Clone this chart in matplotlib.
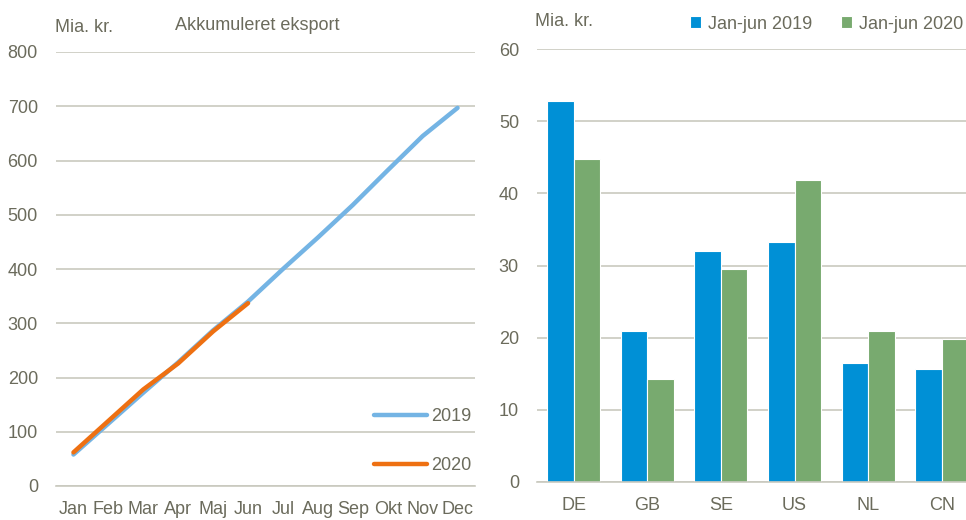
import matplotlib.pyplot as plt

# ---------------- Data ----------------
months = ["Jan", "Feb", "Mar", "Apr", "Maj", "Jun", "Jul", "Aug", "Sep", "Okt", "Nov", "Dec"]
export_2019 = [58, 115, 172, 228, 287, 340, 400, 458, 518, 582, 645, 697]
export_2020 = [62, 120, 178, 226, 285, 337]

countries = ["DE", "GB", "SE", "US", "NL", "CN"]
h1_2019 = [52.8, 20.9, 32.0, 33.3, 16.5, 15.7]
h1_2020 = [44.7, 14.3, 29.5, 41.8, 20.9, 19.8]

# ---------------- Style ----------------
TXT = "#6b6b5c"
GRID = "#c9c9bf"
BLUE_LINE = "#74b4e4"
ORANGE = "#ee7012"
BLUE_BAR = "#0090d6"
GREEN_BAR = "#78aa6f"
FS = 13

plt.rcParams["font.family"] = ["Liberation Sans", "DejaVu Sans"]

fig = plt.figure(figsize=(9.66, 5.2), dpi=100)

# ---------------- Left: accumulated export ----------------
ax1 = fig.add_axes([56 / 966, 1 - 486 / 520, 419 / 966, 434 / 520])
x = list(range(len(months)))
ax1.plot(x, export_2019, color=BLUE_LINE, lw=3.2, solid_capstyle="round", label="2019")
ax1.plot(x[:len(export_2020)], export_2020, color=ORANGE, lw=3.2,
         solid_capstyle="round", label="2020")
ax1.set_xlim(-0.5, len(months) - 0.5)
ax1.set_ylim(0, 800)
ax1.set_yticks(range(0, 801, 100))
ax1.set_xticks(x)
ax1.set_xticklabels(months)
ax1.grid(axis="y", color=GRID, lw=1.2)
ax1.set_axisbelow(True)
for s in ["top", "right", "left"]:
    ax1.spines[s].set_visible(False)
ax1.spines["bottom"].set_color(GRID)
ax1.spines["bottom"].set_linewidth(1.2)
ax1.tick_params(axis="both", length=0, labelsize=FS, colors=TXT)
ax1.tick_params(axis="y", pad=13)
ax1.tick_params(axis="x", pad=11)
ax1.legend(loc="lower right", bbox_to_anchor=(1.03, -0.01), frameon=False,
           fontsize=FS, labelcolor=TXT, handlelength=2.9, handletextpad=0.25,
           labelspacing=1.75)
fig.text(55 / 966, 1 - 27 / 520, "Mia. kr.", fontsize=FS, color=TXT, va="center")
fig.text(175 / 966, 1 - 25 / 520, "Akkumuleret eksport", fontsize=FS, color=TXT, va="center")

# ---------------- Right: top markets ----------------
ax2 = fig.add_axes([537 / 966, 1 - 482 / 520, 429 / 966, 433 / 520])
pos = list(range(len(countries)))
w = 0.36
ax2.bar([p - w / 2 for p in pos], h1_2019, width=w, color=BLUE_BAR,
        edgecolor="white", lw=0.8, label="Jan-jun 2019")
ax2.bar([p + w / 2 for p in pos], h1_2020, width=w, color=GREEN_BAR,
        edgecolor="white", lw=0.8, label="Jan-jun 2020")
ax2.set_xlim(-0.5, 5.33)
ax2.set_ylim(0, 60)
ax2.set_yticks(range(0, 61, 10))
ax2.set_xticks(pos)
ax2.set_xticklabels(countries)
ax2.grid(axis="y", color=GRID, lw=1.2)
ax2.set_axisbelow(True)
for s in ["top", "right", "left"]:
    ax2.spines[s].set_visible(False)
ax2.spines["bottom"].set_color(GRID)
ax2.spines["bottom"].set_linewidth(1.2)
ax2.tick_params(axis="both", length=0, labelsize=FS, colors=TXT)
ax2.tick_params(axis="y", pad=13)
ax2.tick_params(axis="x", pad=11)
ax2.legend(loc="center left", bbox_to_anchor=(690 / 966, 1 - 24 / 520),
           bbox_transform=fig.transFigure, ncol=2, frameon=False, fontsize=FS,
           labelcolor=TXT, handlelength=0.6, handleheight=0.6,
           handletextpad=0.4, columnspacing=1.6, borderaxespad=0, borderpad=0)
fig.text(535 / 966, 1 - 22 / 520, "Mia. kr.", fontsize=FS, color=TXT, va="center")

fig.savefig("out.png", dpi=100)
